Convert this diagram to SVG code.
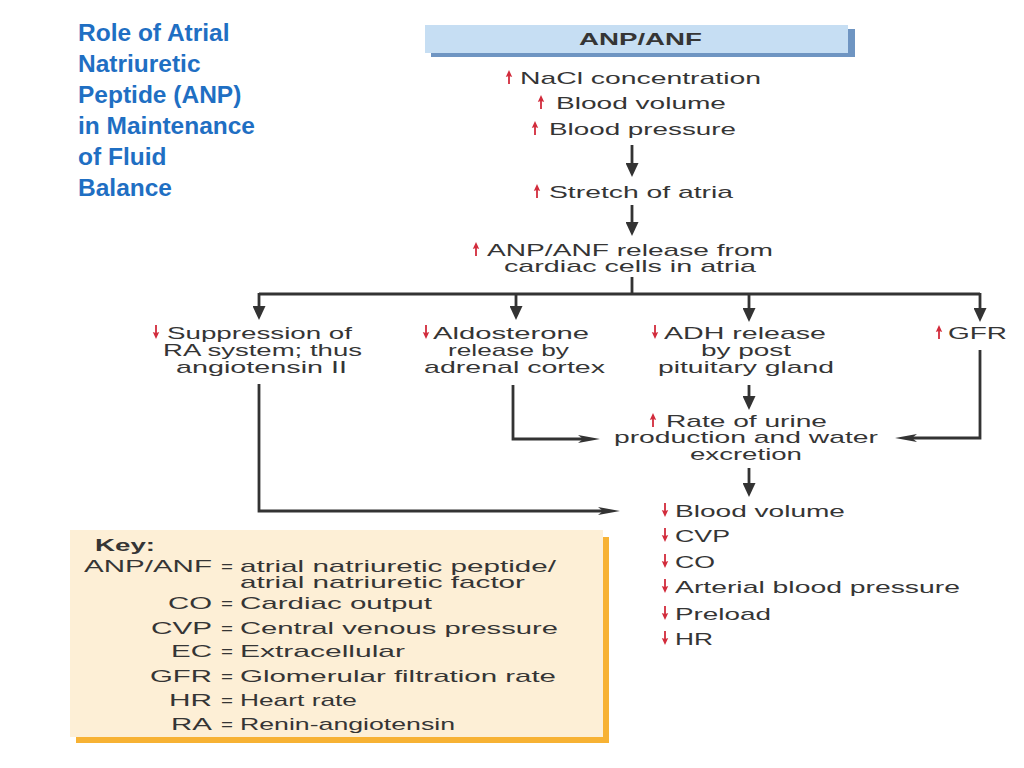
<svg xmlns="http://www.w3.org/2000/svg" xmlns:xlink="http://www.w3.org/1999/xlink" width="1024" height="768" viewBox="0 0 1024 768">
<style>
.t{font-family:"Liberation Sans",Arial,sans-serif;font-size:16px;fill:#353535}
.b{font-weight:bold}
.title{font-family:"Liberation Sans",Arial,sans-serif;font-size:24.5px;font-weight:bold;fill:#1f6fc3}
.c{fill:none;stroke:#333;stroke-width:2.8}
.ra{fill:#d22c3c}
</style>
<defs>
<marker id="big" viewBox="0 0 14 13" refX="7" refY="6.5" markerWidth="14" markerHeight="13" markerUnits="userSpaceOnUse" orient="auto"><path d="M0,0 L14,6.5 L0,13 Z" fill="#333"/></marker>
<marker id="thin" viewBox="0 0 22 8" refX="10" refY="4" markerWidth="22" markerHeight="8" markerUnits="userSpaceOnUse" orient="auto"><path d="M0,0 L22,4 L0,8 L5,4 Z" fill="#333"/></marker>
<path id="up" class="ra" d="M0,-14 L3.2,-7 L0.9,-7.8 L0.9,0 L-0.9,0 L-0.9,-7.8 L-3.2,-7 Z"/>
<path id="dn" class="ra" d="M0,0 L3.2,-7 L0.9,-6.2 L0.9,-14 L-0.9,-14 L-0.9,-6.2 L-3.2,-7 Z"/>
</defs>
<rect width="1024" height="768" fill="#fff"/>

<g id="title">
<text class="title" x="78" y="41">Role of Atrial</text>
<text class="title" x="78" y="72">Natriuretic</text>
<text class="title" x="78" y="103">Peptide (ANP)</text>
<text class="title" x="78" y="134">in Maintenance</text>
<text class="title" x="78" y="165">of Fluid</text>
<text class="title" x="78" y="196">Balance</text>
</g>

<g id="header">
<rect x="431" y="29" width="424" height="28" fill="#6f95c2"/>
<rect x="425" y="25" width="423" height="28" fill="#c6def3"/>
<g transform="scale(1.8,1)"><text class="t b" x="321.67" y="45" textLength="68.33" lengthAdjust="spacingAndGlyphs">ANP/ANF</text></g>
</g>

<g id="triggers">
<use xlink:href="#up" x="509" y="84"/>
<use xlink:href="#up" x="541" y="109"/>
<use xlink:href="#up" x="535" y="135"/>
<g transform="scale(1.8,1)">
<text class="t" x="288.89" y="84" textLength="133.89" lengthAdjust="spacingAndGlyphs">NaCl concentration</text>
<text class="t" x="308.89" y="109" textLength="94.44" lengthAdjust="spacingAndGlyphs">Blood volume</text>
<text class="t" x="305" y="135" textLength="103.89" lengthAdjust="spacingAndGlyphs">Blood pressure</text>
</g>
</g>

<g id="stretch">
<use xlink:href="#up" x="537" y="198"/>
<g transform="scale(1.8,1)">
<text class="t" x="305" y="198" textLength="102.22" lengthAdjust="spacingAndGlyphs">Stretch of atria</text>
</g>
</g>

<g id="release">
<use xlink:href="#up" x="476" y="256"/>
<g transform="scale(1.8,1)">
<text class="t" x="270.56" y="256" textLength="158.89" lengthAdjust="spacingAndGlyphs">ANP/ANF release from</text>
<text class="t" x="280" y="272" textLength="140" lengthAdjust="spacingAndGlyphs">cardiac cells in atria</text>
</g>
</g>

<g id="ra">
<use xlink:href="#dn" x="156" y="339"/>
<g transform="scale(1.8,1)">
<text class="t" x="92.78" y="339" textLength="102.78" lengthAdjust="spacingAndGlyphs">Suppression of</text>
<text class="t" x="90.56" y="356" textLength="110.56" lengthAdjust="spacingAndGlyphs">RA system; thus</text>
<text class="t" x="97.78" y="373" textLength="95" lengthAdjust="spacingAndGlyphs">angiotensin II</text>
</g>
</g>

<g id="aldosterone">
<use xlink:href="#dn" x="426" y="339"/>
<g transform="scale(1.8,1)">
<text class="t" x="240.56" y="339" textLength="86.67" lengthAdjust="spacingAndGlyphs">Aldosterone</text>
<text class="t" x="248.89" y="356" textLength="67.22" lengthAdjust="spacingAndGlyphs">release by</text>
<text class="t" x="235.56" y="373" textLength="100.56" lengthAdjust="spacingAndGlyphs">adrenal cortex</text>
</g>
</g>

<g id="adh">
<use xlink:href="#dn" x="655" y="339"/>
<g transform="scale(1.8,1)">
<text class="t" x="368.89" y="339" textLength="90" lengthAdjust="spacingAndGlyphs">ADH release</text>
<text class="t" x="389.44" y="356" textLength="50" lengthAdjust="spacingAndGlyphs">by post</text>
<text class="t" x="365.56" y="373" textLength="97.78" lengthAdjust="spacingAndGlyphs">pituitary gland</text>
</g>
</g>

<g id="gfr">
<use xlink:href="#up" x="939" y="339"/>
<g transform="scale(1.8,1)">
<text class="t" x="526.67" y="339" textLength="32.78" lengthAdjust="spacingAndGlyphs">GFR</text>
</g>
</g>

<g id="urine">
<use xlink:href="#up" x="653" y="427"/>
<g transform="scale(1.8,1)">
<text class="t" x="370" y="427" textLength="89.44" lengthAdjust="spacingAndGlyphs">Rate of urine</text>
<text class="t" x="341.11" y="443" textLength="146.67" lengthAdjust="spacingAndGlyphs">production and water</text>
<text class="t" x="383.33" y="460" textLength="62.22" lengthAdjust="spacingAndGlyphs">excretion</text>
</g>
</g>

<g id="effects">
<use xlink:href="#dn" x="665" y="517"/>
<use xlink:href="#dn" x="665" y="542"/>
<use xlink:href="#dn" x="665" y="568"/>
<use xlink:href="#dn" x="665" y="593"/>
<use xlink:href="#dn" x="665" y="620"/>
<use xlink:href="#dn" x="665" y="645"/>
<g transform="scale(1.8,1)">
<text class="t" x="375" y="517" textLength="94.44" lengthAdjust="spacingAndGlyphs">Blood volume</text>
<text class="t" x="375" y="542" textLength="30.56" lengthAdjust="spacingAndGlyphs">CVP</text>
<text class="t" x="375" y="568" textLength="22.22" lengthAdjust="spacingAndGlyphs">CO</text>
<text class="t" x="375" y="593" textLength="158.33" lengthAdjust="spacingAndGlyphs">Arterial blood pressure</text>
<text class="t" x="375" y="620" textLength="53.33" lengthAdjust="spacingAndGlyphs">Preload</text>
<text class="t" x="375" y="645" textLength="21.11" lengthAdjust="spacingAndGlyphs">HR</text>
</g>
</g>

<g id="connectors">
<path class="c" d="M632,145 V170" marker-end="url(#big)"/>
<path class="c" d="M632,205 V229" marker-end="url(#big)"/>
<path class="c" d="M632,277 V294 M259,294 H980"/>
<path class="c" d="M259,293 V313" marker-end="url(#big)"/>
<path class="c" d="M516,293 V313" marker-end="url(#big)"/>
<path class="c" d="M749,293 V315" marker-end="url(#big)"/>
<path class="c" d="M980,293 V315" marker-end="url(#big)"/>
<path class="c" d="M749,385 V403" marker-end="url(#big)"/>
<path class="c" d="M749,468 V490" marker-end="url(#big)"/>
<path class="c" d="M259,384 V511 H608" marker-end="url(#thin)"/>
<path class="c" d="M513,385 V439 H588" marker-end="url(#thin)"/>
<path class="c" d="M980,350 V438 H907" marker-end="url(#thin)"/>
</g>

<g id="key">
<rect x="76" y="537" width="533" height="206" fill="#f7b234"/>
<rect x="70" y="530" width="533" height="207" fill="#fdefd6"/>
<g transform="scale(1.8,1)">
<text class="t b" x="52.78" y="551" textLength="33.33" lengthAdjust="spacingAndGlyphs">Key:</text>
<text class="t" x="46.67" y="572" textLength="71.11" lengthAdjust="spacingAndGlyphs">ANP/ANF</text>
<text class="t" x="122.78" y="572" textLength="6.67" lengthAdjust="spacingAndGlyphs">=</text>
<text class="t" x="133.33" y="572" textLength="175.56" lengthAdjust="spacingAndGlyphs">atrial natriuretic peptide/</text>
<text class="t" x="133.33" y="588" textLength="158.33" lengthAdjust="spacingAndGlyphs">atrial natriuretic factor</text>
<text class="t" x="93.33" y="609" textLength="24.44" lengthAdjust="spacingAndGlyphs">CO</text>
<text class="t" x="122.78" y="609" textLength="6.67" lengthAdjust="spacingAndGlyphs">=</text>
<text class="t" x="133.33" y="609" textLength="106.67" lengthAdjust="spacingAndGlyphs">Cardiac output</text>
<text class="t" x="83.89" y="634" textLength="33.89" lengthAdjust="spacingAndGlyphs">CVP</text>
<text class="t" x="122.78" y="634" textLength="6.67" lengthAdjust="spacingAndGlyphs">=</text>
<text class="t" x="133.33" y="634" textLength="176.67" lengthAdjust="spacingAndGlyphs">Central venous pressure</text>
<text class="t" x="95" y="657" textLength="22.78" lengthAdjust="spacingAndGlyphs">EC</text>
<text class="t" x="122.78" y="657" textLength="6.67" lengthAdjust="spacingAndGlyphs">=</text>
<text class="t" x="133.33" y="657" textLength="91.67" lengthAdjust="spacingAndGlyphs">Extracellular</text>
<text class="t" x="83.33" y="682" textLength="34.44" lengthAdjust="spacingAndGlyphs">GFR</text>
<text class="t" x="122.78" y="682" textLength="6.67" lengthAdjust="spacingAndGlyphs">=</text>
<text class="t" x="133.33" y="682" textLength="175.56" lengthAdjust="spacingAndGlyphs">Glomerular filtration rate</text>
<text class="t" x="93.89" y="706" textLength="23.89" lengthAdjust="spacingAndGlyphs">HR</text>
<text class="t" x="122.78" y="706" textLength="6.67" lengthAdjust="spacingAndGlyphs">=</text>
<text class="t" x="133.33" y="706" textLength="65" lengthAdjust="spacingAndGlyphs">Heart rate</text>
<text class="t" x="95" y="730" textLength="22.78" lengthAdjust="spacingAndGlyphs">RA</text>
<text class="t" x="122.78" y="730" textLength="6.67" lengthAdjust="spacingAndGlyphs">=</text>
<text class="t" x="133.33" y="730" textLength="119.44" lengthAdjust="spacingAndGlyphs">Renin-angiotensin</text>
</g>
</g>
</svg>
